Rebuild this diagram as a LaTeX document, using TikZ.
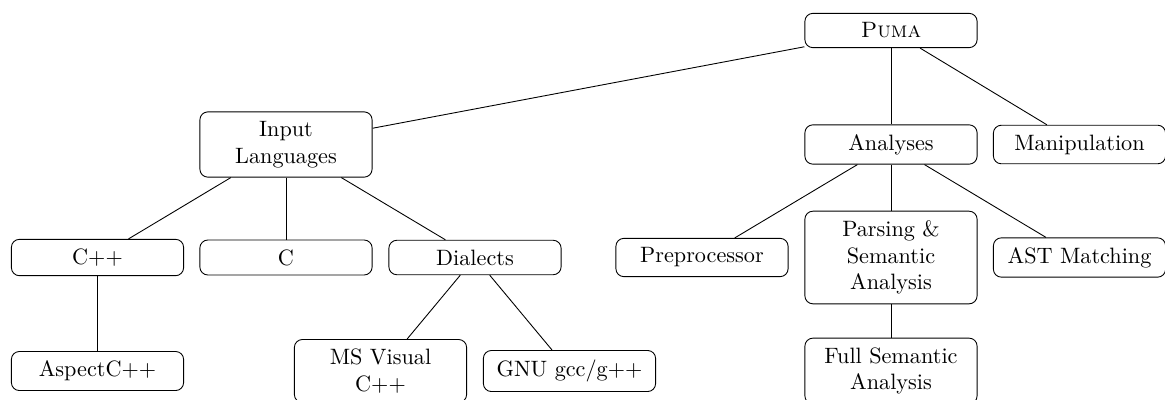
\documentclass[tikz,border=0pt]{standalone}
\begin{document}
\begin{tikzpicture}[x=0.45pt,y=-0.45pt,
  box/.style={draw,rounded corners=3.6pt,minimum width=77.5pt,inner xsep=2pt,inner ysep=4.24pt,align=center,font=\normalsize}]
\useasboundingbox (0,0) rectangle (1165,399);
\node[box] (puma) at (891,30.5) {\textsc{Puma}};
\node[box] (input) at (286,144.5) {Input\\Languages};
\node[box] (anal) at (891,144.5) {Analyses};
\node[box] (manip) at (1079.5,144.5) {Manipulation};
\node[box] (cpp) at (97.5,257.5) {C++};
\node[box] (c) at (286,257.5) {C};
\node[box] (dial) at (475,257.5) {Dialects};
\node[box] (prep) at (702,257.5) {Preprocessor};
\node[box] (pars) at (891,257.5) {Parsing \&\\Semantic\\Analysis};
\node[box] (ast) at (1079.5,257.5) {AST Matching};
\node[box] (aspect) at (97.5,371) {AspectC++};
\node[box] (msvc) at (380.5,371) {MS Visual\\C++};
\node[box] (gnu) at (569.5,371) {GNU gcc/g++};
\node[box] (full) at (891,371) {Full Semantic\\Analysis};
\draw (puma) -- (input);
\draw (puma) -- (anal);
\draw (puma) -- (manip);
\draw (input) -- (cpp);
\draw (input) -- (c);
\draw (input) -- (dial);
\draw (cpp) -- (aspect);
\draw (dial) -- (msvc);
\draw (dial) -- (gnu);
\draw (anal) -- (prep);
\draw (anal) -- (pars);
\draw (anal) -- (ast);
\draw (pars) -- (full);
\end{tikzpicture}
\end{document}
